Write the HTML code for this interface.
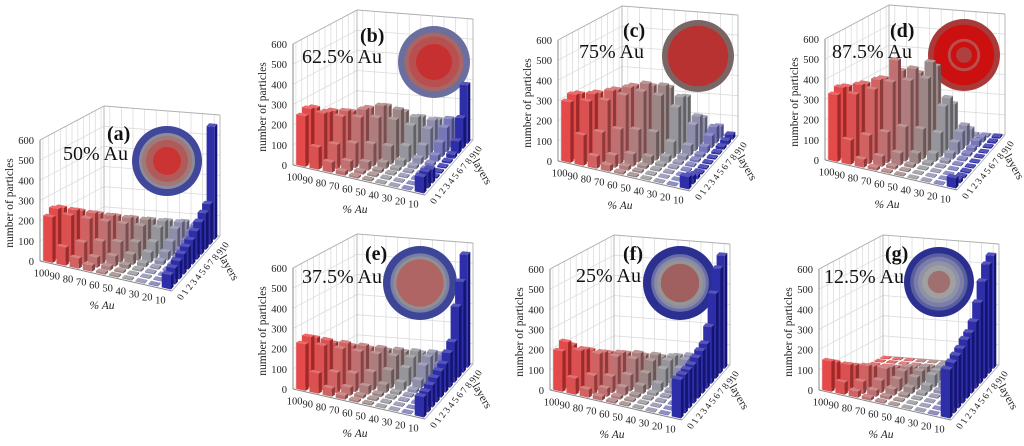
<!DOCTYPE html>
<html><head><meta charset="utf-8"><style>
html,body{margin:0;padding:0;background:#fff;width:1024px;height:446px;overflow:hidden}
svg{display:block;font-family:"Liberation Serif",serif}
</style></head><body>
<svg id="fig" width="1024" height="446" viewBox="0 0 1024 446" xmlns="http://www.w3.org/2000/svg"></svg>
<script>
const comps=[100,90,80,70,60,50,40,30,20,10];
const layers=[0,1,2,3,4,5,6,7,8,9,10];
const yTicks=[0,100,200,300,400,500,600];
const dataA=[
[225,250,240,60,5,5,5,5,5,5,5],
[90,230,240,220,50,5,5,5,5,5,5],
[50,110,210,220,200,40,5,5,5,5,5],
[30,50,110,190,200,180,40,5,5,5,5],
[10,20,50,100,170,180,160,40,5,5,5],
[8,10,20,50,90,150,160,140,40,5,5],
[6,8,10,20,50,80,130,140,120,40,5],
[5,6,8,10,20,40,70,110,120,100,40],
[5,5,6,8,10,20,40,60,80,90,70],
[70,80,90,100,110,120,140,160,180,200,560]];
const dataB=[
[250,270,260,80,5,5,5,5,5,5,5],
[110,260,250,240,60,5,5,5,5,5,5],
[50,120,240,250,230,50,5,5,5,5,5],
[20,50,120,230,250,240,50,5,5,5,5],
[10,15,40,110,220,260,240,50,5,5,5],
[8,10,15,30,90,200,230,200,50,5,5],
[6,8,10,15,30,80,160,180,160,40,5],
[5,6,8,10,15,30,70,130,150,130,40],
[5,5,6,8,10,15,30,70,120,140,110],
[80,80,70,10,8,8,10,20,60,150,290]];
const dataC=[
[300,320,310,100,5,5,5,5,5,5,5],
[150,300,320,310,80,5,5,5,5,5,5],
[60,160,300,330,320,70,5,5,5,5,5],
[30,60,170,320,340,330,60,5,5,5,5],
[10,20,60,160,330,350,320,60,5,5,5],
[8,10,15,40,140,300,330,300,60,5,5],
[6,8,10,15,30,80,230,260,240,50,5],
[5,6,8,10,12,20,50,130,150,120,30],
[5,5,6,8,10,12,15,30,60,80,60],
[60,40,20,10,8,8,8,10,15,20,25]];
const dataD=[
[330,350,340,120,5,5,5,5,5,5,5],
[120,330,360,350,100,5,5,5,5,5,5],
[40,140,350,380,370,90,5,5,5,5,5],
[15,50,150,380,470,400,80,5,5,5,5],
[8,15,60,170,380,420,380,70,5,5,5],
[6,8,15,50,150,380,440,400,60,5,5],
[5,6,8,15,40,120,230,250,200,40,5],
[5,5,6,8,15,30,60,90,100,60,10],
[5,5,5,6,8,10,15,20,30,25,10],
[50,20,10,8,6,6,6,6,8,10,10]];
const dataE=[
[230,250,230,40,5,5,5,5,5,5,5],
[100,220,230,200,40,5,5,5,5,5,5],
[40,100,200,210,180,30,5,5,5,5,5],
[20,40,90,180,190,160,30,5,5,5,5],
[10,15,40,90,160,170,140,30,5,5,5],
[8,10,15,40,90,140,150,120,30,5,5],
[6,8,10,15,40,90,120,130,100,30,5],
[5,6,8,10,15,40,90,110,110,80,20],
[5,5,6,8,10,15,40,80,100,90,60],
[100,100,110,120,130,140,170,200,350,450,560]];
const dataF=[
[200,230,200,30,5,5,5,5,5,5,5],
[80,200,190,170,30,5,5,5,5,5,5],
[40,90,180,170,150,25,5,5,5,5,5],
[20,40,80,160,160,140,25,5,5,5,5],
[10,15,40,80,140,150,120,25,5,5,5],
[8,10,15,40,80,120,130,100,25,5,5],
[6,8,10,15,40,90,110,110,90,20,5],
[5,6,8,10,15,40,80,100,100,70,15],
[5,5,6,8,10,15,40,70,90,80,40],
[190,190,190,190,200,210,220,280,420,520,560]];
const dataG=[
[150,130,100,20,5,5,5,5,5,5,5],
[60,130,110,90,20,5,5,5,5,5,5],
[30,60,120,100,80,15,5,5,5,5,5],
[15,30,60,100,90,70,15,5,5,5,5],
[8,15,30,60,80,80,60,15,5,5,5],
[6,8,15,30,60,70,70,50,15,5,5],
[5,6,8,15,30,60,60,60,40,10,5],
[5,5,6,8,15,30,60,60,50,30,8],
[5,5,5,6,8,15,30,50,50,40,20],
[240,250,260,270,290,300,330,400,480,540,560]];

const compColors=['#e23a3a','#d84242','#cc5454','#ba6464','#a87272','#957c7c','#8c8c92','#8484a4','#6a6ab2','#1c1ca2'];
const panels=[
 {id:'a',title:'50% Au',data:dataA,dx:-253,dy:96,cx:167,cy:161,r:35,lab:[107,140],tl:[63,160],
  rings:[[1,'#41479a'],[0.8,'#8c8c9c'],[0.72,'#a07878'],[0.6,'#b05a5a'],[0.4,'#cc3333']]},
 {id:'b',title:'62.5% Au',data:dataB,dx:0,dy:0,cx:434,cy:62,r:36,lab:[360,42],tl:[302,63],
  rings:[[1,'#6a6f9f'],[0.82,'#a86666'],[0.7,'#b85050'],[0.5,'#c63030']]},
 {id:'c',title:'75% Au',data:dataC,dx:265,dy:-4,cx:698,cy:56,r:36,lab:[623,37],tl:[579,58],
  rings:[[1,'#7a6565'],[0.84,'#b83232']]},
 {id:'d',title:'87.5% Au',data:dataD,dx:532,dy:-5,cx:964,cy:55,r:36,lab:[890,37],tl:[832,58],
  rings:[[1,'#a83a3a'],[0.84,'#cc1010'],[0.45,'#b85050'],[0.37,'#cc1010'],[0.22,'#b04040']]},
 {id:'e',title:'37.5% Au',data:dataE,dx:0,dy:224,cx:420,cy:283,r:37,lab:[365,260],tl:[302,283],
  rings:[[1,'#3d4596'],[0.8,'#7a7ea8'],[0.72,'#909090'],[0.64,'#b06565']]},
 {id:'f',title:'25% Au',data:dataF,dx:257,dy:225,cx:680,cy:283,r:37,lab:[623,260],tl:[576,282],
  rings:[[1,'#2a2f90'],[0.78,'#6a6ea8'],[0.7,'#8a8aa8'],[0.62,'#959595'],[0.52,'#a06060']]},
 {id:'g',title:'12.5% Au',data:dataG,dx:526,dy:225,cx:939,cy:282,r:35,lab:[885,260],tl:[824,283],
  rings:[[1,'#2a2f90'],[0.82,'#5a5fa0'],[0.72,'#7a7ea8'],[0.6,'#9090a8'],[0.48,'#a0a0a0'],[0.32,'#a07070']]}
];
const FL=[293,165],FR=[425,195],BR=[473,140],BL=[357,131];
const K=121/600;
const NS='http://www.w3.org/2000/svg';
const svg=document.getElementById('fig');
function mk(tag,attrs,parent){const e=document.createElementNS(NS,tag);for(const k in attrs)e.setAttribute(k,attrs[k]);(parent||svg).appendChild(e);return e;}
function P(p,u,v,h){
 const x=(1-u)*(1-v)*FL[0]+u*(1-v)*FR[0]+u*v*BR[0]+(1-u)*v*BL[0];
 const y=(1-u)*(1-v)*FL[1]+u*(1-v)*FR[1]+u*v*BR[1]+(1-u)*v*BL[1];
 return [x+p.dx,y+p.dy-h*K];
}
function pts(a){return a.map(q=>q[0].toFixed(1)+','+q[1].toFixed(1)).join(' ');}
function shade(hex,f){const n=parseInt(hex.slice(1),16);let r=n>>16,g=(n>>8)&255,b=n&255;
 if(f>0){r+=(255-r)*f;g+=(255-g)*f;b+=(255-b)*f;}else{r*=1+f;g*=1+f;b*=1+f;}
 return 'rgb('+Math.round(r)+','+Math.round(g)+','+Math.round(b)+')';}

panels.forEach(p=>{
 const g=mk('g',{});
 
 
 const wall=mk('g',{},g);
 
 
 yTicks.forEach(t=>{
  mk('line',{x1:P(p,0,0,t)[0],y1:P(p,0,0,t)[1],x2:P(p,0,1,t)[0],y2:P(p,0,1,t)[1],stroke:'#dcdcdc','stroke-width':0.8},wall);
  mk('line',{x1:P(p,0,1,t)[0],y1:P(p,0,1,t)[1],x2:P(p,1,1,t)[0],y2:P(p,1,1,t)[1],stroke:'#dcdcdc','stroke-width':0.8},wall);
 });
 layers.forEach((l,j)=>{const v=(j+0.5)/11;
  mk('line',{x1:P(p,0,v,0)[0],y1:P(p,0,v,0)[1],x2:P(p,0,v,600)[0],y2:P(p,0,v,600)[1],stroke:'#dcdcdc','stroke-width':0.8},wall);});
 comps.forEach((c,i)=>{const u=(i+0.5)/10;
  mk('line',{x1:P(p,u,1,0)[0],y1:P(p,u,1,0)[1],x2:P(p,u,1,600)[0],y2:P(p,u,1,600)[1],stroke:'#dcdcdc','stroke-width':0.8},wall);});
 [[0,1,0,0,1,600],[0,1,600,1,1,600],[1,1,0,1,1,600],[0,0,600,0,1,600],[0,1,0,1,1,0],[1,0,0,1,1,0]].forEach(e=>{
  const a=P(p,e[0],e[1],e[2]),b=P(p,e[3],e[4],e[5]);
  mk('line',{x1:a[0],y1:a[1],x2:b[0],y2:b[1],stroke:'#b0b0b0','stroke-width':0.9},wall);});
 const a0=P(p,0,0,0),a1=P(p,0,0,600),a2=P(p,1,0,0);
 mk('line',{x1:a0[0],y1:a0[1],x2:a1[0],y2:a1[1],stroke:'#888','stroke-width':1},wall);
 mk('line',{x1:a0[0],y1:a0[1],x2:a2[0],y2:a2[1],stroke:'#888','stroke-width':1},wall);
 const circ=mk('g',{},g);
 
 
 p.rings.forEach(rg=>mk('circle',{cx:p.cx,cy:p.cy,r:p.r*rg[0],fill:rg[1]},circ));
 const bars=mk('g',{},g);
 
 
 for(let j=layers.length-1;j>=0;j--){
  for(let i=0;i<comps.length;i++){
   const h=Math.max(p.data[i][j],4);
   const uc=(i+0.5)/10,vc=(j+0.5)/11;
   const u0=uc-0.035,u1=uc+0.035,v0=vc-0.026,v1=vc+0.026;
   const col=compColors[i];
   const bg=mk('g',{},bars);
   
   
   mk('polygon',{points:pts([P(p,u0,v0,0),P(p,u1,v0,0),P(p,u1,v0,h),P(p,u0,v0,h)]),fill:shade(col,0.08)},bg);
   mk('polygon',{points:pts([P(p,u1,v0,0),P(p,u1,v1,0),P(p,u1,v1,h),P(p,u1,v0,h)]),fill:shade(col,-0.3)},bg);
   mk('polygon',{points:pts([P(p,u0,v0,h),P(p,u1,v0,h),P(p,u1,v1,h),P(p,u0,v1,h)]),fill:shade(col,0.25)},bg);
  }
 }
 yTicks.forEach(t=>{const q=P(p,0,0,t);
  const tx=mk('text',{x:q[0]-6,y:q[1]+4,'font-size':10.5,'text-anchor':'end',fill:'#222'},g);
  
  
  tx.textContent=t;});
 comps.forEach((c,i)=>{const q=P(p,(i+0.5)/10,0,0);
  const tx=mk('text',{x:q[0]-5,y:q[1]+14,'font-size':10.5,'text-anchor':'middle',fill:'#222'},g);
  
  
  tx.textContent=c;});
 layers.forEach((l,j)=>{const q=P(p,1,(j+0.5)/11,0);
  const tx=mk('text',{x:q[0]+9,y:q[1]+10,'font-size':9.5,'text-anchor':'middle',fill:'#222',transform:'rotate(-60 '+(q[0]+9)+' '+(q[1]+10)+')'},g);
  
  
  tx.textContent=l;});
 let q=P(p,0,0,0);
 const yt=mk('text',{x:q[0]-27,y:q[1]-58,'font-size':11.5,'text-anchor':'middle',fill:'#222',transform:'rotate(-90 '+(q[0]-27)+' '+(q[1]-58)+')'},g);
 
 
 yt.textContent='number of particles';
 const xt=mk('text',{x:q[0]+62,y:q[1]+48,'font-size':11.5,'font-style':'italic','text-anchor':'middle',fill:'#222'},g);
 
 
 xt.textContent='% Au';
 q=P(p,1,0.5,0);
 const lt=mk('text',{x:q[0]+30,y:q[1]+6,'font-size':11.5,'text-anchor':'middle',fill:'#222',transform:'rotate(60 '+(q[0]+30)+' '+(q[1]+6)+')'},g);
 
 
 lt.textContent='layers';
 const pl=mk('text',{x:p.lab[0],y:p.lab[1],'font-size':20,'font-weight':'bold',fill:'#111'},g);
 
 
 pl.textContent='('+p.id+')';
 const ttl=mk('text',{x:p.tl[0],y:p.tl[1],'font-size':20,fill:'#111'},g);
 
 
 ttl.textContent=p.title;
});
</script>
</body></html>
